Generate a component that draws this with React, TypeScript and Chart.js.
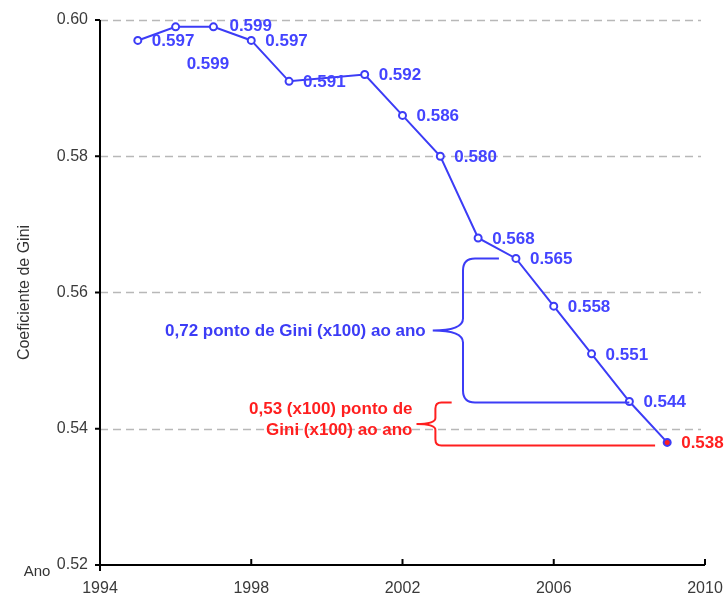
import React, { useEffect, useRef } from "react";
import { Chart, registerables } from "chart.js";

Chart.register(...registerables);

const years = [1995, 1996, 1997, 1998, 1999, 2001, 2002, 2003, 2004, 2005, 2006, 2007, 2008, 2009];
const gini = [0.597, 0.599, 0.599, 0.597, 0.591, 0.592, 0.586, 0.58, 0.568, 0.565, 0.558, 0.551, 0.544, 0.538];
const xTickValues = [1994, 1998, 2002, 2006, 2010];
const yTickValues = [0.52, 0.54, 0.56, 0.58, 0.6];
const yAxisTitle = "Coeficiente de Gini";
const xAxisTitle = "Ano";
const blueNote = "0,72 ponto de Gini (x100) ao ano";
const redNote = ["0,53 (x100) ponto de", "Gini (x100) ao ano"];

const FONT = "'Liberation Sans', Arial, sans-serif";
const BLUE = "#3c3cf6";
const LABEL_BLUE = "#4444ff";
const RED = "#ff1f1f";
const labelOffsets: Record<number, [number, number]> = { 1: [11, 37], 2: [16, -1] };

function drawBrace(
  ctx: CanvasRenderingContext2D,
  x: number,
  yTop: number,
  yBot: number,
  tipX: number,
  topEnd: number,
  botEnd: number,
  r: number
) {
  const yMid = (yTop + yBot) / 2;
  ctx.beginPath();
  ctx.moveTo(topEnd, yTop);
  ctx.lineTo(x + r, yTop);
  ctx.quadraticCurveTo(x, yTop, x, yTop + r);
  ctx.lineTo(x, yMid - r);
  ctx.quadraticCurveTo(x, yMid, tipX, yMid);
  ctx.quadraticCurveTo(x, yMid, x, yMid + r);
  ctx.lineTo(x, yBot - r);
  ctx.quadraticCurveTo(x, yBot, x + r, yBot);
  ctx.lineTo(botEnd, yBot);
  ctx.stroke();
}

const decorPlugin = {
  id: "decor",
  beforeDatasetsDraw(chart: any) {
    const { ctx, chartArea, scales } = chart;
    const xs = scales.x;
    const ys = scales.y;
    ctx.save();
    // dashed grid
    ctx.strokeStyle = "#b8b8b8";
    ctx.lineWidth = 1.5;
    ctx.setLineDash([8, 5]);
    yTickValues.forEach((v) => {
      if (v === yTickValues[0]) return;
      const y = Math.round(ys.getPixelForValue(v)) + 0.5;
      ctx.beginPath();
      ctx.moveTo(chartArea.left, y);
      ctx.lineTo(chartArea.right - 4, y);
      ctx.stroke();
    });
    ctx.setLineDash([]);
    // axes
    ctx.strokeStyle = "#000";
    ctx.lineWidth = 2;
    const L = chartArea.left;
    const B = chartArea.bottom;
    ctx.beginPath();
    ctx.moveTo(L, chartArea.top);
    ctx.lineTo(L, B + 6);
    ctx.moveTo(L - 5, B);
    ctx.lineTo(chartArea.right, B);
    ctx.stroke();
    // y tick marks
    yTickValues.forEach((v) => {
      const y = ys.getPixelForValue(v);
      ctx.beginPath();
      ctx.moveTo(L - 5, y);
      ctx.lineTo(L, y);
      ctx.stroke();
    });
    // x tick marks (inward)
    xTickValues.forEach((v) => {
      if (v === xTickValues[0]) return;
      const x = xs.getPixelForValue(v);
      ctx.beginPath();
      ctx.moveTo(x, B);
      ctx.lineTo(x, B - 6);
      ctx.stroke();
    });
    // axis titles
    ctx.fillStyle = "#333";
    ctx.font = `16px ${FONT}`;
    ctx.textAlign = "center";
    ctx.textBaseline = "middle";
    ctx.save();
    ctx.translate(25, (chartArea.top + chartArea.bottom) / 2);
    ctx.rotate(-Math.PI / 2);
    ctx.fillText(yAxisTitle, 0, 0);
    ctx.restore();
    ctx.font = `15px ${FONT}`;
    ctx.fillText(xAxisTitle, 37, B + 7);
    ctx.restore();
  },
  afterDatasetsDraw(chart: any) {
    const { ctx, scales } = chart;
    const xs = scales.x;
    const ys = scales.y;
    const X = (v: number) => xs.getPixelForValue(v);
    const Y = (v: number) => ys.getPixelForValue(v);
    const n = gini.length;
    ctx.save();
    ctx.lineWidth = 2;
    // blue brace
    ctx.strokeStyle = BLUE;
    const bTop = Y(gini[n - 5]);
    const bBot = Y(gini[n - 2]) + 1;
    drawBrace(ctx, X(2003.6), bTop, bBot, X(2002.8), X(2004.55), X(years[n - 2]), 12);
    ctx.fillStyle = BLUE;
    ctx.font = `bold 17px ${FONT}`;
    ctx.textAlign = "right";
    ctx.textBaseline = "middle";
    ctx.fillText(blueNote, X(2002.8) - 7, (bTop + bBot) / 2 + 1);
    // red brace
    ctx.strokeStyle = RED;
    const rTop = Y(gini[n - 2]) + 1;
    const rBot = Y(gini[n - 1]) + 3;
    drawBrace(ctx, X(2002.87), rTop, rBot, X(2002.37), X(2003.3), X(2008.68), 6);
    ctx.fillStyle = RED;
    ctx.fillText(redNote[0], X(2002.37) - 4, rTop + 7);
    ctx.fillText(redNote[1], X(2002.37) - 4, rTop + 28);
    // data labels
    const meta = chart.getDatasetMeta(0);
    ctx.textAlign = "left";
    meta.data.forEach((pt: any, i: number) => {
      const [dx, dy] = labelOffsets[i] || [14, 1];
      ctx.fillStyle = i === n - 1 ? RED : LABEL_BLUE;
      ctx.fillText(gini[i].toFixed(3), pt.x + dx, pt.y + dy);
    });
    ctx.restore();
  },
};

export default function App() {
  const ref = useRef<HTMLCanvasElement | null>(null);
  useEffect(() => {
    if (!ref.current) return;
    const n = gini.length;
    const chart = new Chart(ref.current, {
      type: "line",
      data: {
        datasets: [
          {
            data: years.map((y, i) => ({ x: y, y: gini[i] })),
            borderColor: BLUE,
            borderWidth: 2,
            pointRadius: 3.5,
            pointBorderWidth: 2,
            pointBorderColor: BLUE,
            pointBackgroundColor: years.map((_, i) => (i === n - 1 ? RED : "#ffffff")),
            tension: 0,
            fill: false,
          },
        ],
      },
      options: {
        responsive: false,
        animation: false,
        devicePixelRatio: 1,
        layout: { padding: { left: 0, right: 23, top: 20, bottom: 0 } },
        plugins: { legend: { display: false }, tooltip: { enabled: false } },
        scales: {
          x: {
            type: "linear",
            min: xTickValues[0],
            max: xTickValues[xTickValues.length - 1],
            afterBuildTicks: (s: any) => {
              s.ticks = xTickValues.map((v) => ({ value: v }));
            },
            afterFit: (s: any) => {
              s.height = 34;
              s.paddingLeft = 0;
              s.paddingRight = 0;
            },
            grid: { display: false, drawTicks: false },
            border: { display: false },
            ticks: {
              padding: 14,
              color: "#3a3a3a",
              font: { family: FONT, size: 16 },
              maxRotation: 0,
              callback: (v: any) => String(v),
            },
          },
          y: {
            type: "linear",
            min: yTickValues[0],
            max: yTickValues[yTickValues.length - 1],
            afterBuildTicks: (s: any) => {
              s.ticks = yTickValues.map((v) => ({ value: v }));
            },
            afterFit: (s: any) => {
              s.width = 100;
              s.paddingTop = 0;
              s.paddingBottom = 0;
            },
            grid: { display: false, drawTicks: false },
            border: { display: false },
            ticks: {
              padding: 12,
              color: "#3a3a3a",
              font: { family: FONT, size: 16 },
              callback: (v: any) => Number(v).toFixed(2),
            },
          },
        },
      },
      plugins: [decorPlugin],
    } as any);
    return () => chart.destroy();
  }, []);
  return (
    <div style={{ position: "fixed", left: 0, top: 0, width: 728, height: 599, background: "#fff" }}>
      <canvas ref={ref} width={728} height={599} />
    </div>
  );
}
